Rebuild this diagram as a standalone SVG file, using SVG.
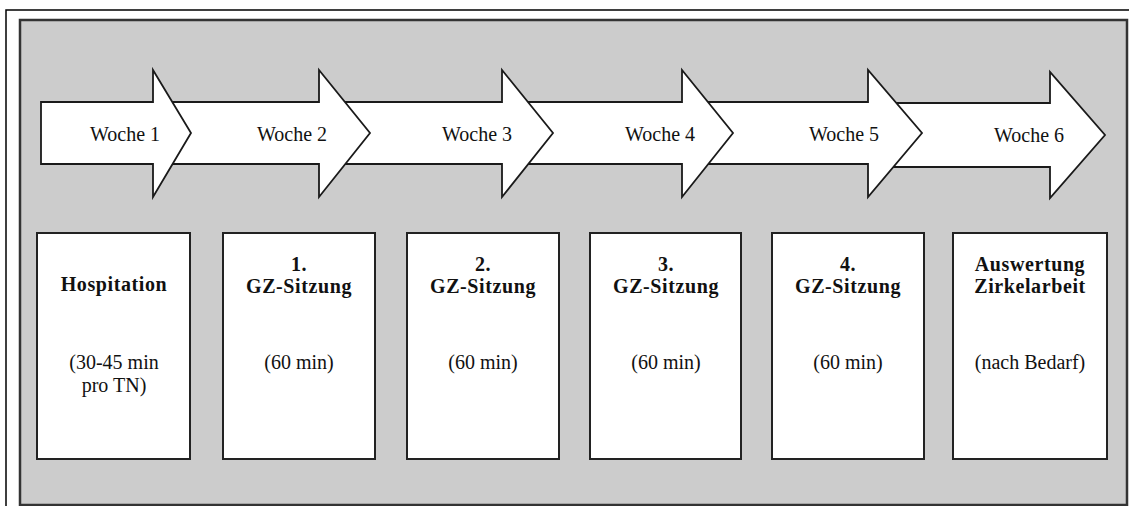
<svg xmlns="http://www.w3.org/2000/svg" width="1129" height="506" viewBox="0 0 1129 506">
  <style>
    .frame { fill: none; stroke: #000; stroke-width: 1.5; }
    .panel { fill: #cccccc; stroke: #333; stroke-width: 2.5; }
    .arrow { fill: #fff; stroke: #1a1a1a; stroke-width: 1.8; stroke-linejoin: miter; }
    .box { fill: #fff; stroke: #222; stroke-width: 2; }
    .lbl { font-family: "Liberation Serif", "Times New Roman", serif; font-size: 20px; fill: #111; text-anchor: middle; }
    .b { font-weight: bold; letter-spacing: 0.6px; }
  </style>

  <!-- outer frame lines -->
  <path class="frame" d="M6,506 V10 H1129"/>

  <!-- grey panel -->
  <rect class="panel" x="20" y="20" width="1107" height="485"/>

  <!-- week arrows, drawn right to left so each head overlaps the next body -->
  <g id="arrows">
    <g id="week6">
      <polygon class="arrow" points="878,103 1050,103 1050,72 1105,135 1050,198 1050,167 878,167"/>
      <text class="lbl" x="1029" y="142">Woche 6</text>
    </g>
    <g id="week5">
      <polygon class="arrow" points="692,102 868,102 868,70 922,133 868,197 868,164 692,164"/>
      <text class="lbl" x="844" y="141">Woche 5</text>
    </g>
    <g id="week4">
      <polygon class="arrow" points="512,102 682,102 682,70 733,133 682,197 682,164 512,164"/>
      <text class="lbl" x="660" y="141">Woche 4</text>
    </g>
    <g id="week3">
      <polygon class="arrow" points="330,102 502,102 502,70 553,133 502,197 502,164 330,164"/>
      <text class="lbl" x="477" y="141">Woche 3</text>
    </g>
    <g id="week2">
      <polygon class="arrow" points="165,102 319,102 319,70 370,133 319,197 319,164 165,164"/>
      <text class="lbl" x="292" y="141">Woche 2</text>
    </g>
    <g id="week1">
      <polygon class="arrow" points="41,102 153,102 153,70 191,133 153,197 153,164 41,164"/>
      <text class="lbl" x="125" y="141">Woche 1</text>
    </g>
  </g>

  <!-- activity boxes -->
  <g id="hospitation">
    <rect class="box" x="37" y="233" width="153" height="226"/>
    <text class="lbl b" x="114" y="291">Hospitation</text>
    <text class="lbl" x="114" y="369">(30-45 min</text>
    <text class="lbl" x="114" y="392">pro TN)</text>
  </g>
  <g id="sitzung1">
    <rect class="box" x="223" y="233" width="152" height="226"/>
    <text class="lbl b" x="299" y="271">1.</text>
    <text class="lbl b" x="299" y="293">GZ-Sitzung</text>
    <text class="lbl" x="299" y="369">(60 min)</text>
  </g>
  <g id="sitzung2">
    <rect class="box" x="407" y="233" width="152" height="226"/>
    <text class="lbl b" x="483" y="271">2.</text>
    <text class="lbl b" x="483" y="293">GZ-Sitzung</text>
    <text class="lbl" x="483" y="369">(60 min)</text>
  </g>
  <g id="sitzung3">
    <rect class="box" x="590" y="233" width="151" height="226"/>
    <text class="lbl b" x="666" y="271">3.</text>
    <text class="lbl b" x="666" y="293">GZ-Sitzung</text>
    <text class="lbl" x="666" y="369">(60 min)</text>
  </g>
  <g id="sitzung4">
    <rect class="box" x="772" y="233" width="152" height="226"/>
    <text class="lbl b" x="848" y="271">4.</text>
    <text class="lbl b" x="848" y="293">GZ-Sitzung</text>
    <text class="lbl" x="848" y="369">(60 min)</text>
  </g>
  <g id="auswertung">
    <rect class="box" x="953" y="233" width="154" height="226"/>
    <text class="lbl b" x="1030" y="271">Auswertung</text>
    <text class="lbl b" x="1030" y="293">Zirkelarbeit</text>
    <text class="lbl" x="1030" y="369">(nach Bedarf)</text>
  </g>
</svg>
